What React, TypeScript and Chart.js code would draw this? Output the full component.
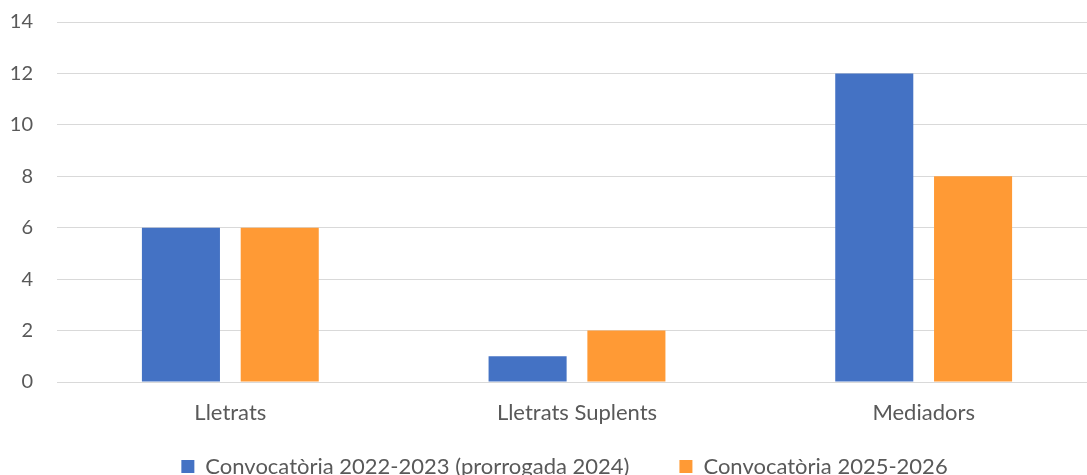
import React, { useEffect, useRef } from "react";
import { Chart, registerables } from "chart.js";

Chart.register(...registerables);

const categories = ["Lletrats", "Lletrats Suplents", "Mediadors"];
const seriesNames = ["Convocatòria 2022-2023 (prorrogada 2024)", "Convocatòria 2025-2026"];
const series2022 = [6, 1, 12];
const series2025 = [6, 2, 8];
const yTicks = [0, 2, 4, 6, 8, 10, 12, 14];

const FONT = "Lato, 'Open Sans', sans-serif";
const TEXT = "#595959";
const LEGEND_PAD = 50;

const legendMover = {
  id: "legendMover",
  afterLayout(chart: any) {
    const lg = chart.legend;
    if (!lg) return;
    const targetTop = 455.5 - LEGEND_PAD;
    const dy = targetTop - lg.top;
    lg.top += dy;
    lg.bottom += dy;
    const dx = 16;
    lg.left += dx;
    lg.right += dx;
  },
};

export default function App() {
  const ref = useRef<HTMLCanvasElement | null>(null);

  useEffect(() => {
    const canvas = ref.current!;
    const chart = new Chart(canvas, {
      type: "bar",
      data: {
        labels: categories,
        datasets: [
          {
            label: seriesNames[0],
            data: series2022,
            backgroundColor: "#4472C4",
            categoryPercentage: 0.57,
            barPercentage: 0.79,
          },
          {
            label: seriesNames[1],
            data: series2025,
            backgroundColor: "#FF9A35",
            categoryPercentage: 0.57,
            barPercentage: 0.79,
          },
        ],
      },
      plugins: [legendMover],
      options: {
        responsive: false,
        animation: false,
        layout: { padding: { top: 22, left: 0, right: 0, bottom: 0 } },
        plugins: {
          tooltip: { enabled: false },
          legend: {
            position: "bottom",
            labels: {
              font: { family: FONT, size: 22 },
              color: TEXT,
              boxWidth: 13,
              boxHeight: 13,
              padding: LEGEND_PAD,
            },
          },
        },
        scales: {
          x: {
            grid: { display: false, drawTicks: false },
            border: { display: false },
            ticks: { font: { family: FONT, size: 22 }, color: TEXT, padding: 18 },
            afterFit: (s: any) => {
              const lh = s.chart.legend ? s.chart.legend.height : 0;
              s.height = s.chart.height - 382 - lh;
              s.paddingLeft = 0;
              s.paddingRight = 0;
            },
          },
          y: {
            min: 0,
            max: 14,
            afterBuildTicks: (s: any) => {
              s.ticks = yTicks.map((v) => ({ value: v }));
            },
            grid: { color: "#D9D9D9", lineWidth: 1, drawTicks: false },
            border: { display: false },
            ticks: { font: { family: FONT, size: 20 }, color: TEXT, padding: 24 },
            afterFit: (s: any) => {
              s.width = 57;
              s.paddingTop = 0;
              s.paddingBottom = 0;
            },
          },
        },
      },
    });
    return () => chart.destroy();
  }, []);

  return (
    <div style={{ position: "fixed", left: 0, top: 0, width: 1087, height: 475, overflow: "hidden", background: "#fff" }}>
      <canvas ref={ref} width={1097} height={560} style={{ display: "block" }} />
    </div>
  );
}
